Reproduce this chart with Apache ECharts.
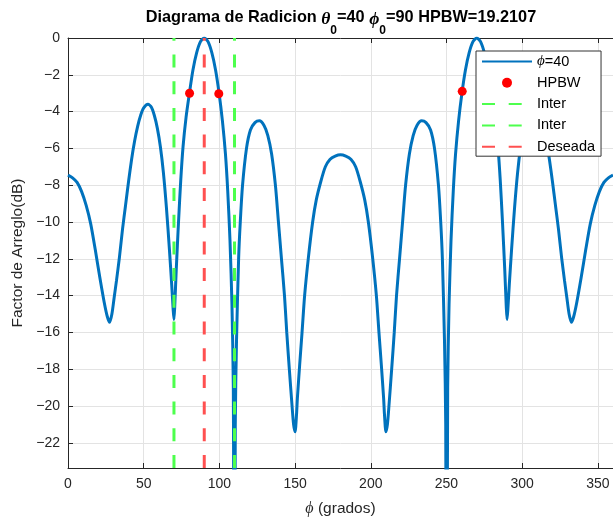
<!DOCTYPE html>
<html><head><meta charset="utf-8">
<script src="https://cdn.jsdelivr.net/npm/echarts@6/dist/echarts.min.js"></script>
<style>html,body{margin:0;padding:0;background:#fff}#c{width:613px;height:526px}</style>
</head><body><div id="c"></div>
<script>
// ---- data ----
const phiDeg = [0,3,6,9,12,15,18,21,24,26,27.5,29,30.5,32,34,36,38,40,42,44,46,48,50,52.8,55,57,59,61,63,65,67,68.5,69.5,70,70.5,71.5,73,74.5,76,78,80.2,82.5,85,87.5,90,92.5,95,97.5,99.8,102,104,105.5,107,108.3,109.2,110,110.5,111.3,112.7,113.8,115.3,117.9,120.5,123.5,126.4,129.5,132,134.5,137,139,141,143,144.5,146.2,148,149,150,151,151.5,153,154.6,156.3,158.7,161.6,164,167,170,173,176.5,180,
183.5,187,190,193,196,198.4,201.3,203.7,205.4,207,208.5,209,210,211,212,213.8,215.5,217,219,221,223,225.5,228,230.5,233.6,236.5,239.5,242.1,244.7,246.2,247.3,248.7,249.5,250,250.8,251.7,253,254.5,256,258,260.2,262.5,265,267.5,270,272.5,275,277.5,279.8,282,284,285.5,287,288.5,289.5,290,290.5,291.5,293,295,297,299,301,303,305,307.2,310,312,314,316,318,320,322,324,326,328,329.5,331,332.5,334,336,339,342,345,348,351,354,357,360];
const afDb = [-7.45,-7.6,-7.85,-8.35,-9.1,-10.1,-11.5,-13.0,-14.4,-15.15,-15.45,-15.0,-14.1,-13.2,-11.9,-10.4,-9.1,-7.8,-6.6,-5.6,-4.8,-4.2,-3.8,-3.6,-3.75,-4.2,-4.9,-5.9,-7.3,-9.2,-11.5,-13.4,-14.8,-15.3,-14.6,-12.6,-10.0,-7.7,-5.9,-4.3,-3.0,-1.75,-0.8,-0.2,0,-0.2,-0.8,-1.75,-3.0,-4.5,-6.3,-8.3,-11.0,-14.5,-19.0,-40,-21.0,-16.5,-12.0,-10.0,-8.0,-6.0,-5.0,-4.6,-4.5,-4.75,-5.3,-6.3,-8.0,-10.0,-12.0,-14.0,-16.0,-18.0,-20.0,-21.0,-21.4,-20.4,-19.6,-17.8,-16.0,-14.0,-12.0,-10.0,-8.8,-7.8,-7.0,-6.6,-6.42,-6.35,
-6.42,-6.6,-7.0,-7.8,-8.8,-10.0,-12.0,-14.0,-16.0,-17.8,-19.6,-20.4,-21.4,-21.0,-20.0,-18.0,-16.0,-14.0,-12.0,-10.0,-8.0,-6.3,-5.3,-4.75,-4.5,-4.6,-5.0,-6.0,-8.0,-10.0,-12.0,-16.5,-21.0,-40,-19.0,-14.5,-11.0,-8.3,-6.3,-4.5,-3.0,-1.75,-0.8,-0.2,0,-0.2,-0.8,-1.75,-3.0,-4.3,-5.9,-7.7,-10.0,-12.6,-14.6,-15.3,-14.8,-13.4,-11.5,-9.2,-7.3,-5.9,-4.9,-4.2,-3.75,-3.6,-3.8,-4.2,-4.8,-5.6,-6.6,-7.8,-9.1,-10.4,-11.9,-13.2,-14.1,-15.0,-15.45,-15.15,-14.4,-13.0,-11.5,-10.1,-9.1,-8.35,-7.85,-7.6,-7.45];
const hpbwPhi = [80.3, 99.6, 260.4];
const hpbwDb = [-3.0, -3.03, -2.9];
const interPhi = [70, 110];
const desiredPhi = [90];
const yLimits = [-23.37, 0];
const xLimits = [0, 360];
const xTicks = [0, 50, 100, 150, 200, 250, 300, 350];
const yTicks = [-22, -20, -18, -16, -14, -12, -10, -8, -6, -4, -2, 0];
const legendNames = ['ϕ=40', 'HPBW', 'Inter', 'Inter ', 'Deseada'];

const FONT = '"Liberation Sans", Arial, Helvetica, sans-serif';
const GREEK = '"Liberation Serif", "DejaVu Serif", serif';
const axisColor = '#262626';
const gridColor = '#e3e3e3';

const chart = echarts.init(document.getElementById('c'), null, {renderer: 'canvas'});

const vline = (x) => [[x, yLimits[0]], [x, yLimits[1]]];
const dashed = [13, 13.7];

chart.setOption({
  animation: false,
  backgroundColor: '#fff',
  textStyle: {fontFamily: FONT},
  title: {
    text: '{b|Diagrama de Radicion }{g|θ}{s|0}{b|=40 }{g|ϕ}{s|0}{b|=90 HPBW=19.2107}',
    left: 341, top: 10, textAlign: 'center', padding: 0,
    textStyle: {
      rich: {
        b: {fontFamily: FONT, fontSize: 16.3, fontWeight: 'bold', color: '#000', lineHeight: 20, verticalAlign: 'top'},
        g: {fontFamily: GREEK, fontSize: 17.5, fontStyle: 'italic', color: '#000', lineHeight: 20, verticalAlign: 'top'},
        s: {fontFamily: FONT, fontSize: 12, fontWeight: 'bold', color: '#000', lineHeight: 12, padding: [15, 0, 0, 0], verticalAlign: 'top'}
      }
    }
  },
  grid: {left: 68, top: 38, width: 546, height: 430, show: false},
  xAxis: [{
    type: 'value', min: xLimits[0], max: xLimits[1], position: 'bottom',
    axisLine: {show: true, onZero: false, lineStyle: {color: axisColor, width: 1}},
    axisTick: {show: true, inside: true, length: 5, customValues: xTicks, lineStyle: {color: axisColor}},
    axisLabel: {customValues: xTicks, fontSize: 14, color: axisColor, margin: 9, fontFamily: FONT},
    splitLine: {show: true, lineStyle: {color: gridColor, width: 1}},
    name: '{i|ϕ} (grados)', nameLocation: 'middle', nameGap: 33,
    nameTextStyle: {fontSize: 15.5, color: axisColor, fontFamily: FONT,
      rich: {i: {fontFamily: GREEK, fontStyle: 'italic', fontSize: 16, color: axisColor}}}
  }, {
    type: 'value', min: xLimits[0], max: xLimits[1], position: 'top',
    axisLine: {show: true, onZero: false, lineStyle: {color: axisColor, width: 1}},
    axisTick: {show: true, inside: true, length: 5, customValues: xTicks, lineStyle: {color: axisColor}},
    axisLabel: {show: false}, splitLine: {show: false}
  }],
  yAxis: [{
    type: 'value', min: yLimits[0], max: yLimits[1],
    axisLine: {show: true, onZero: false, lineStyle: {color: axisColor, width: 1}},
    axisTick: {show: true, inside: true, length: 5, customValues: yTicks, lineStyle: {color: axisColor}},
    axisLabel: {customValues: yTicks, fontSize: 14, color: axisColor, margin: 8, fontFamily: FONT,
      formatter: (v) => String(v).replace('-', '\u2212')},
    splitLine: {show: true, lineStyle: {color: gridColor, width: 1}},
    name: 'Factor de Arreglo(dB)', nameLocation: 'middle', nameGap: 38,
    nameTextStyle: {fontSize: 15.5, color: axisColor, fontFamily: FONT}
  }],
  legend: {
    orient: 'vertical', left: 476, top: 51,
    itemWidth: 50, itemHeight: 12.5, itemGap: 6.3,
    padding: [3, 6, 2, 5],
    backgroundColor: '#fff', borderColor: '#333', borderWidth: 1, borderRadius: 0,
    selectedMode: false,
    textStyle: {fontSize: 14.5, lineHeight: 14.5, color: '#000', fontFamily: FONT,
      rich: {i: {fontFamily: GREEK, fontStyle: 'italic', fontSize: 15, color: '#000'}}},
    formatter: (n) => n === legendNames[0] ? '{i|ϕ}=40' : n,
    data: legendNames.map((n, i) => i === 1 ? {name: n} : {name: n, itemStyle: {opacity: 0}})
  },
  series: [
    {
      name: legendNames[0], type: 'line', xAxisIndex: 0, yAxisIndex: 0,
      data: phiDeg.map((p, i) => [p, afDb[i]]),
      symbol: 'none', showSymbol: false, smooth: 0.25, clip: true, z: 2,
      lineStyle: {color: '#0072BD', width: 3}, itemStyle: {color: '#0072BD'}
    },
    {
      name: legendNames[1], type: 'line', data: hpbwPhi.map((p, i) => [p, hpbwDb[i]]),
      symbol: 'circle', symbolSize: 9, showSymbol: true, z: 3,
      itemStyle: {color: '#ff0000'}, lineStyle: {opacity: 0, width: 0}
    },
    {
      name: legendNames[2], type: 'line', data: vline(interPhi[0]), symbol: 'none', z: 4, clip: true,
      lineStyle: {color: '#4dff4d', width: 3, type: dashed}, itemStyle: {color: '#4dff4d'}
    },
    {
      name: legendNames[3], type: 'line', data: vline(interPhi[1]), symbol: 'none', z: 4, clip: true,
      lineStyle: {color: '#4dff4d', width: 3, type: dashed}, itemStyle: {color: '#4dff4d'}
    },
    {
      name: legendNames[4], type: 'line', data: vline(desiredPhi[0]), symbol: 'none', z: 4, clip: true,
      lineStyle: {color: '#ff5050', width: 3, type: dashed}, itemStyle: {color: '#ff5050'}
    }
  ]
});
</script></body></html>
